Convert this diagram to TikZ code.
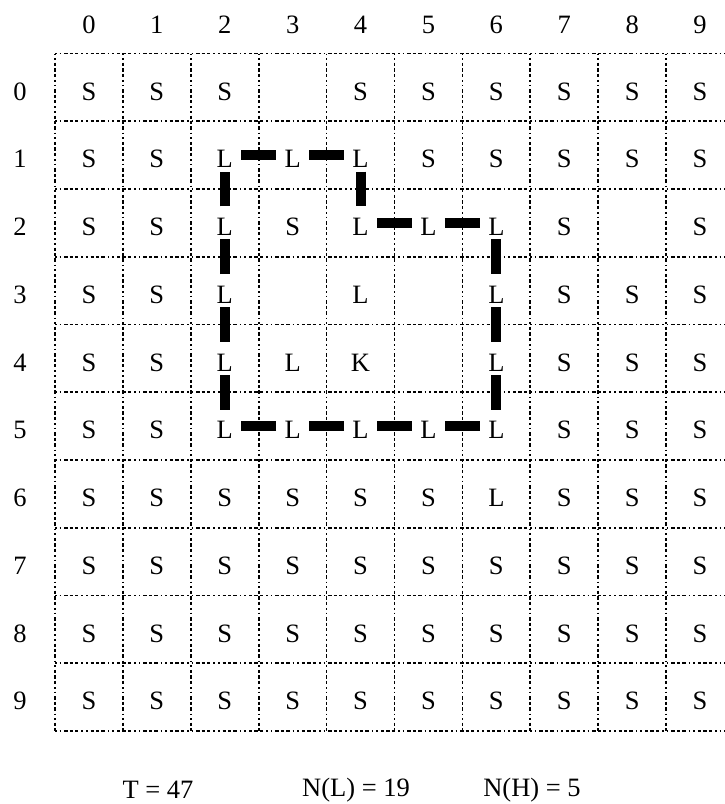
\documentclass[tikz,border=0pt]{standalone}
\usepackage{fontspec}
\setmainfont{Liberation Serif}
\begin{document}
\begin{tikzpicture}[x=1pt,y=-1pt,
  gridline/.style={line width=1.7pt,
    dash pattern=on 1.6pt off 3pt on 1.6pt off 3pt on 3.4pt off 2pt on 3.4pt off 2pt on 3.4pt off 3pt},
  cell/.style={inner sep=0pt, text height=25.5pt, text depth=0pt, font=\fontsize{26.5}{30}\selectfont},
  idx/.style={inner sep=0pt, font=\fontsize{26.5}{30}\selectfont},
  bar/.style={line width=10pt, line cap=butt, shorten <=16.5pt, shorten >=16.5pt}]
\useasboundingbox (0,0) rectangle (725,804);
\clip (0,0) rectangle (725,804);
\fill[white] (0,0) rectangle (725,804);
% grid
\foreach \k in {0,...,10} {
  \draw[gridline] ({55+67.9*\k},53.5) -- ({55+67.9*\k},731);
  \draw[gridline] (55,{53.5+67.75*\k}) -- (760,{53.5+67.75*\k});
}
% headers
\foreach \k in {0,...,9} {
  \node[idx] (col\k) at ({55+67.9*(\k+0.5)},25) {\k};
  \node[idx] (row\k) at (20,{53.5+67.75*(\k+0.5)+4}) {\k};
}
% cells
\foreach \line [count=\r from 0] in {
  {S,S,S,{},S,S,S,S,S,S},
  {S,S,L,L,L,S,S,S,S,S},
  {S,S,L,S,L,L,L,S,{},S},
  {S,S,L,{},L,{},L,S,S,S},
  {S,S,L,L,K,{},L,S,S,S},
  {S,S,L,L,L,L,L,S,S,S},
  {S,S,S,S,S,S,L,S,S,S},
  {S,S,S,S,S,S,S,S,S,S},
  {S,S,S,S,S,S,S,S,S,S},
  {S,S,S,S,S,S,S,S,S,S}} {
  \foreach \v [count=\c from 0] in \line {
    \node[cell] (c\r\c) at ({55+67.9*(\c+0.5)},{53.5+67.75*(\r+0.5)}) {\v};
  }
}
% boundary bars
\foreach \a/\b in {12/13,13/14,14/24,24/25,25/26,26/36,36/46,46/56,56/55,55/54,54/53,53/52,52/42,42/32,32/22,22/12} {
  \draw[bar] (c\a.center) -- (c\b.center);
}
% bottom texts
\node[idx] (t) at (158,790) {T = 47};
\node[idx] (nl) at (356,790) {N(L) = 19};
\node[idx] (nh) at (532,790) {N(H) = 5};
\end{tikzpicture}
\end{document}
